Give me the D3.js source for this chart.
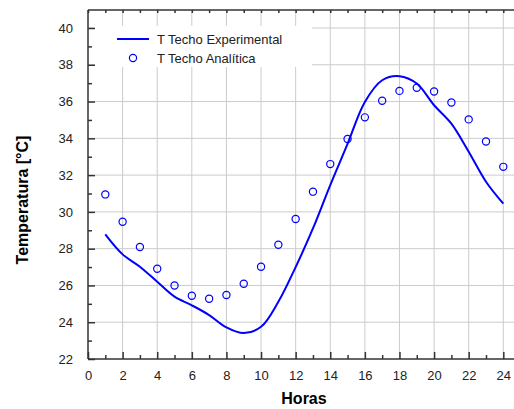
<!DOCTYPE html>
<html>
<head>
<meta charset="utf-8">
<script src="https://cdn.jsdelivr.net/npm/d3@7"></script>
<style>
body { margin: 0; background: #fff; }
text { font-family: Arial, "Liberation Sans", sans-serif; }
</style>
</head>
<body>
<div class="container"></div>
<script>
var hours = [1,2,3,4,5,6,7,8,9,10,11,12,13,14,15,16,17,18,19,20,21,22,23,24];
var techoExperimental = [28.78,27.69,27.02,26.2,25.39,24.92,24.39,23.72,23.41,23.75,25.11,27.0,29.1,31.46,33.7,35.98,37.16,37.38,36.98,35.8,34.8,33.27,31.64,30.45];
var techoAnalitica = [30.95,29.46,28.09,26.91,26.0,25.44,25.28,25.48,26.09,27.02,28.21,29.61,31.1,32.6,33.96,35.14,36.04,36.58,36.75,36.55,35.95,35.03,33.83,32.45];
var xTicks = [0,2,4,6,8,10,12,14,16,18,20,22,24];
var yTicks = [22,24,26,28,30,32,34,36,38,40];
var seriesNames = ["T Techo Experimental", "T Techo Analítica"];

const WIDTH = 514;
const HEIGHT = 409;
const LEFT = 88, TOP = 10, BOTTOM = 359;

var translate = function(x, y){
	return "translate("+x+","+y+")";
};

var svg = d3.select('.container').append('svg')
	.attr('width', WIDTH)
	.attr('height', HEIGHT);

var xScale = d3.scaleLinear().domain([0, 24]).range([LEFT, 503.3]);
var yScale = d3.scaleLinear().domain([22, 40]).range([BOTTOM, 28]);

// grid
var grid = svg.append('g');
grid.selectAll('line.v').data(xTicks.slice(1)).enter().append('line')
	.attr('x1', function(d){ return xScale(d); }).attr('x2', function(d){ return xScale(d); })
	.attr('y1', TOP).attr('y2', BOTTOM)
	.attr('stroke', '#cccccc').attr('stroke-width', 1);
grid.selectAll('line.h').data(yTicks.slice(1)).enter().append('line')
	.attr('y1', function(d){ return yScale(d); }).attr('y2', function(d){ return yScale(d); })
	.attr('x1', LEFT).attr('x2', WIDTH)
	.attr('stroke', '#cccccc').attr('stroke-width', 1);

// legend box covers grid
svg.append('rect').attr('x', 95).attr('y', 26).attr('width', 217).attr('height', 41).attr('fill', '#fff');

// axes
var xAxis = d3.axisBottom(xScale).tickValues(xTicks).tickSize(-7).tickPadding(12);
var xMinor = d3.axisBottom(xScale).tickValues(d3.range(1, 25, 2)).tickSize(-4).tickFormat('');
var yAxis = d3.axisLeft(yScale).tickValues(yTicks).tickSize(-7).tickPadding(15);
var yMinor = d3.axisLeft(yScale).tickValues(d3.range(23, 41, 2)).tickSize(-4).tickFormat('');
var xTop = d3.axisTop(xScale).tickValues(d3.range(0, 25, 1)).tickSize(-3).tickFormat('');

function styleAxis(g){
	g.select('.domain').remove();
	g.selectAll('.tick line').attr('stroke', '#333').attr('stroke-width', 1.5);
	g.selectAll('.tick text').attr('fill', '#222').style('font-size', '13px');
}

svg.append('g').attr('transform', translate(0, BOTTOM)).call(xAxis).call(styleAxis);
svg.append('g').attr('transform', translate(0, BOTTOM)).call(xMinor).call(styleAxis);
svg.append('g').attr('transform', translate(LEFT, 0)).call(yAxis).call(styleAxis);
svg.append('g').attr('transform', translate(LEFT, 0)).call(yMinor).call(styleAxis);
svg.append('g').attr('transform', translate(0, TOP)).call(xTop).call(styleAxis);

svg.append('line').attr('x1', LEFT).attr('x2', WIDTH).attr('y1', BOTTOM).attr('y2', BOTTOM)
	.attr('stroke', '#333').attr('stroke-width', 1.5);
svg.append('line').attr('x1', LEFT).attr('x2', WIDTH).attr('y1', TOP).attr('y2', TOP)
	.attr('stroke', '#333').attr('stroke-width', 1.5);
svg.append('line').attr('x1', LEFT).attr('x2', LEFT).attr('y1', TOP).attr('y2', BOTTOM)
	.attr('stroke', '#333').attr('stroke-width', 1.5);

// data
var line = d3.line()
	.curve(d3.curveCatmullRom.alpha(0.5))
	.x(function(d, i){ return xScale(hours[i]); })
	.y(function(d){ return yScale(d); });

svg.append('path').attr('d', line(techoExperimental))
	.attr('fill', 'none').attr('stroke', '#0000ff').attr('stroke-width', 2);

svg.selectAll('circle.pt').data(techoAnalitica).enter().append('circle')
	.attr('cx', function(d, i){ return xScale(hours[i]); })
	.attr('cy', function(d){ return yScale(d); })
	.attr('r', 3.6)
	.attr('fill', 'none').attr('stroke', '#0000ff').attr('stroke-width', 1.2);

// legend
svg.append('line').attr('x1', 117).attr('x2', 149).attr('y1', 39).attr('y2', 39)
	.attr('stroke', '#0000ff').attr('stroke-width', 2);
svg.append('circle').attr('cx', 133).attr('cy', 58).attr('r', 3.6)
	.attr('fill', 'none').attr('stroke', '#0000ff').attr('stroke-width', 1.2);
svg.selectAll('text.leg').data(seriesNames).enter().append('text')
	.attr('x', 157).attr('y', function(d, i){ return 44 + i * 19; })
	.style('font-size', '13px').attr('fill', '#222')
	.text(function(d){ return d; });

// titles
svg.append('text').attr('x', 304).attr('y', 404).attr('text-anchor', 'middle')
	.style('font-size', '16px').style('font-weight', 'bold').text('Horas');
svg.append('text').attr('transform', translate(28, 200) + ' rotate(-90)').attr('text-anchor', 'middle')
	.style('font-size', '16px').style('font-weight', 'bold').text('Temperatura [°C]');
</script>
</body>
</html>
